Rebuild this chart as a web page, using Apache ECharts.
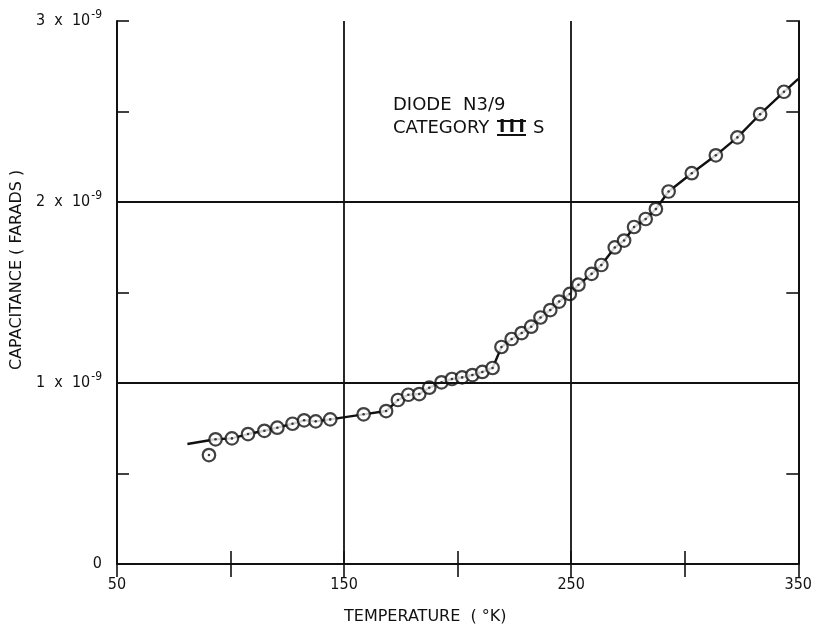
<!DOCTYPE html>
<html>
<head>
<meta charset="utf-8">
<script src="https://cdn.jsdelivr.net/npm/echarts@6/dist/echarts.min.js"></script>
<style>
  html, body { margin: 0; padding: 0; background: #ffffff; }
  #chart { width: 815px; height: 634px; }
</style>
</head>
<body>
<div id="chart"></div>
<script>
// temperature (deg K) of each measured point
const temps = [90.5, 93.4, 100.6, 107.7, 114.9, 120.6, 127.3, 132.4, 137.5, 143.9,
  158.6, 168.5, 173.7, 178.3, 183.1, 187.5, 192.9, 197.5, 202.0, 206.5,
  210.9, 215.4, 219.3, 223.8, 228.2, 232.4, 236.5, 240.8, 244.7, 249.4,
  253.2, 259.0, 263.3, 269.2, 273.3, 277.7, 282.8, 287.3, 292.9, 303.1,
  313.7, 323.2, 333.2, 343.7];
// capacitance, in units of 1e-9 farad
const caps = [0.602, 0.689, 0.694, 0.718, 0.736, 0.753, 0.775, 0.794, 0.788, 0.799,
  0.827, 0.845, 0.906, 0.935, 0.939, 0.974, 1.004, 1.022, 1.031, 1.044,
  1.061, 1.083, 1.199, 1.243, 1.276, 1.311, 1.362, 1.403, 1.450, 1.492,
  1.543, 1.603, 1.652, 1.749, 1.787, 1.862, 1.906, 1.961, 2.058, 2.159,
  2.258, 2.357, 2.485, 2.609];
// ends of the hand drawn curve
const curveStart = [81, 0.663];
const curveEnd = [350, 2.68];
// grid lines
const gridTemps = [150, 250];
const gridCaps = [1, 2];

const points = temps.map((t, i) => [t, caps[i]]);
// curve skips the first (low) point
const curve = [curveStart].concat(points.slice(1)).concat([curveEnd]);

const black = '#111111';
const numFont = "'Liberation Sans Narrow', 'DejaVu Sans Condensed', 'Liberation Sans', sans-serif";
const textFont = "'DejaVu Sans', 'Noto Sans', sans-serif";

function xAxisCfg(pos, showLabel) {
    return {
        type: 'value',
        position: pos,
        min: 50,
        max: 350,
        interval: 50,
        axisLine: { show: true, lineStyle: { color: black, width: 2 } },
        axisTick: { show: true, inside: true, length: 13, lineStyle: { color: black, width: 1.6 } },
        axisLabel: {
            show: showLabel,
            margin: 13,
            color: black,
            fontSize: 16,
            fontFamily: numFont,
            formatter: (v) => (v % 100 === 50 ? String(v) : ''),
        },
        splitLine: { show: false },
    };
}

function yAxisCfg(pos, showLabel) {
    return {
        type: 'value',
        position: pos,
        min: 0,
        max: 3,
        interval: 0.5,
        axisLine: { show: true, lineStyle: { color: black, width: 2 } },
        axisTick: { show: true, inside: true, length: 12, lineStyle: { color: black, width: 1.6 } },
        axisLabel: {
            show: showLabel,
            margin: 15,
            color: black,
            formatter: (v) => {
                if (!Number.isInteger(v)) return '';
                if (v === 0) return '{n|0}';
                return '{n|' + v + '  x  10}{s|-9}';
            },
            rich: {
                n: { fontSize: 16, fontFamily: numFont, color: black },
                s: { fontSize: 12, fontFamily: numFont, color: black, padding: [0, 0, 12, 1] },
            },
        },
        splitLine: { show: false },
    };
}

const chart = echarts.init(document.getElementById('chart'));
chart.setOption({
    backgroundColor: '#ffffff',
    animation: false,
    grid: { left: 117, right: 15, top: 21, bottom: 70 },
    xAxis: [xAxisCfg('bottom', true), xAxisCfg('top', false)],
    yAxis: [yAxisCfg('left', true), yAxisCfg('right', false)],
    graphic: [
        {
            type: 'text', left: 344, top: 609,
            style: { text: 'TEMPERATURE  ( °K)', fill: black, fontSize: 16, fontFamily: textFont },
        },
        {
            type: 'text', x: 9, y: 370, rotation: Math.PI / 2,
            style: { text: 'CAPACITANCE ( FARADS )', fill: black, fontSize: 16, fontFamily: textFont },
        },
        {
            type: 'text', x: 393, y: 105,
            style: { text: 'DIODE  N3/9', fill: black, fontSize: 18, fontFamily: textFont, verticalAlign: 'middle' },
        },
        {
            type: 'text', x: 393, y: 128,
            style: { text: 'CATEGORY', fill: black, fontSize: 18, fontFamily: textFont, verticalAlign: 'middle' },
        },
        {
            type: 'text', x: 499, y: 128,
            style: { text: 'I\u2009I\u2009I', fill: black, fontSize: 17, fontWeight: 'bold', fontFamily: textFont, verticalAlign: 'middle' },
        },
        {
            type: 'line', shape: { x1: 497, y1: 121, x2: 526, y2: 121 },
            style: { stroke: black, lineWidth: 2 },
        },
        {
            type: 'line', shape: { x1: 497, y1: 135, x2: 526, y2: 135 },
            style: { stroke: black, lineWidth: 2 },
        },
        {
            type: 'text', x: 533, y: 128,
            style: { text: 'S', fill: black, fontSize: 18, fontFamily: textFont, verticalAlign: 'middle' },
        },
    ],
    series: [
        {
            type: 'line',
            data: curve,
            z: 2,
            symbol: 'none',
            lineStyle: { color: black, width: 2.4 },
            markLine: {
                silent: true,
                symbol: 'none',
                label: { show: false },
                lineStyle: { color: black, width: 1.8, type: 'solid' },
                data: gridTemps.map((t) => ({ xAxis: t }))
                    .concat(gridCaps.map((c) => ({ yAxis: c }))),
            },
        },
        {
            type: 'scatter',
            data: points,
            z: 3,
            symbol: 'circle',
            symbolSize: 12.5,
            itemStyle: { color: '#ffffff', borderColor: black, borderWidth: 2.2 },
        },
        {
            type: 'scatter',
            data: points,
            z: 4,
            symbol: 'circle',
            symbolSize: 2.6,
            itemStyle: { color: black },
        },
    ],
});
</script>
</body>
</html>
